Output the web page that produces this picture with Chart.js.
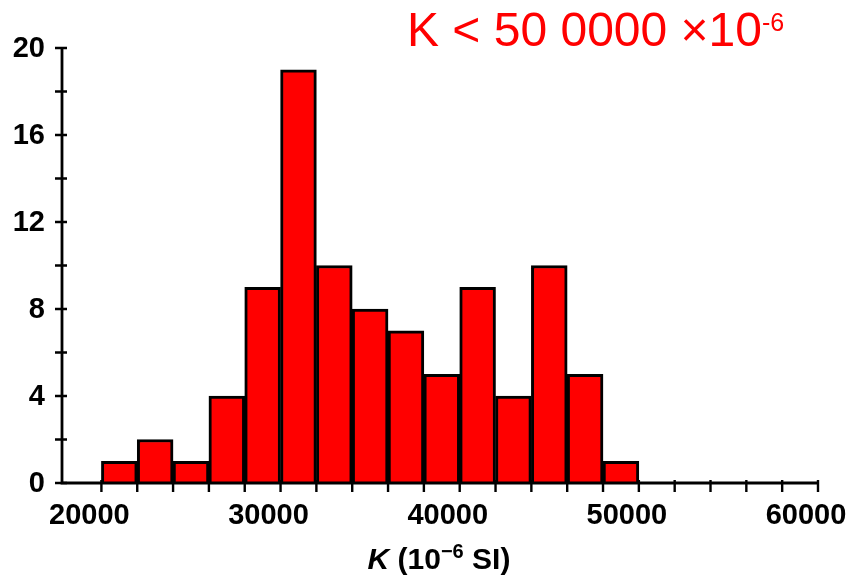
<!DOCTYPE html>
<html>
<head>
<meta charset="utf-8">
<script src="https://cdn.jsdelivr.net/npm/chart.js@4.4.1/dist/chart.umd.min.js"></script>
<style>
  html, body { margin: 0; padding: 0; background: #fff; }
  #wrap { position: relative; width: 852px; height: 584px; }
  #chart { position: absolute; left: 0; top: 0; }
  #note {
    position: absolute; left: 407px; top: 6px;
    font-family: "Liberation Sans", Arial, sans-serif; font-size: 48px; line-height: 48px;
    color: #ff0000; white-space: nowrap;
  }
  #note .sup { font-size: 25px; position: relative; top: -15px; }
  #xtitle {
    position: absolute; left: 0; width: 878px; top: 541px; text-align: center;
    font-family: "Liberation Sans", Arial, sans-serif; font-weight: bold; font-size: 30px; line-height: 36px;
    color: #000; white-space: nowrap;
  }
  #xtitle .sup { font-size: 20px; position: relative; top: -11px; }
</style>
</head>
<body>
<div id="wrap">
  <canvas id="chart" width="852" height="584"></canvas>
  <div id="note">K &lt; 50 0000 &times;10<span class="sup">-6</span></div>
  <div id="xtitle"><i>K</i> (10<span class="sup">&minus;6</span> SI)</div>
</div>
<script>
// Histogram of magnetic susceptibility K (10^-6 SI), bins 2000 wide
const binStarts = [20000, 22000, 24000, 26000, 28000, 30000, 32000, 34000, 36000, 38000, 40000, 42000, 44000, 46000, 48000];
const counts    = [1, 2, 1, 4, 9, 19, 10, 8, 7, 5, 9, 4, 10, 5, 1];
const binWidth  = 2000;

// Axis ticks (every minor tick is drawn, only some carry a label)
const xTickValues  = [20000, 22000, 24000, 26000, 28000, 30000, 32000, 34000, 36000, 38000, 40000, 42000, 44000, 46000, 48000, 50000, 52000, 54000, 56000, 58000, 60000];
const xLabelValues = [20000, 30000, 40000, 50000, 60000];
const yTickValues  = [0, 2, 4, 6, 8, 10, 12, 14, 16, 18, 20];
const yLabelValues = [0, 4, 8, 12, 16, 20];

const xMin = 17800, xMax = 60000;
const yMin = 0, yMax = 20;

const tickFont = { family: "'Liberation Sans', Arial, sans-serif", size: 29, weight: 'bold' };

// Axis lines; y ticks cross the axis, x ticks hang below it
const crossAxes = {
  id: 'crossAxes',
  afterDatasetsDraw(chart) {
    const { ctx, scales: { x, y } } = chart;
    const x0 = x.getPixelForValue(xMin);
    const xEnd = x.getPixelForValue(xMax);
    const y0 = y.getPixelForValue(yMin);
    const yTop = y.getPixelForValue(yMax);
    ctx.save();
    ctx.strokeStyle = '#000';
    ctx.lineWidth = 2.8;
    ctx.beginPath();
    ctx.moveTo(x0, yTop);
    ctx.lineTo(x0, y0);
    ctx.lineTo(xEnd, y0);
    ctx.stroke();
    ctx.lineWidth = 2.4;
    ctx.beginPath();
    yTickValues.forEach(v => {
      const py = y.getPixelForValue(v);
      ctx.moveTo(x0 - 7, py);
      ctx.lineTo(x0 + 5, py);
    });
    xTickValues.forEach(v => {
      const px = x.getPixelForValue(v);
      ctx.moveTo(px, y0 - 3);
      ctx.lineTo(px, y0 + 9);
    });
    ctx.stroke();
    ctx.restore();
  }
};

new Chart(document.getElementById('chart'), {
  type: 'bar',
  data: {
    datasets: [{
      data: binStarts.map((s, i) => ({ x: s + binWidth / 2, y: counts[i] })),
      backgroundColor: '#ff0000',
      borderColor: '#000000',
      borderWidth: 3,
      borderSkipped: 'bottom',
      barPercentage: 1,
      categoryPercentage: 1,
      grouped: false
    }]
  },
  options: {
    responsive: false,
    animation: false,
    layout: { padding: { top: 48, right: 34, bottom: 0, left: 0 } },
    plugins: { legend: { display: false }, tooltip: { enabled: false } },
    scales: {
      x: {
        type: 'linear',
        offset: false,
        min: xMin, max: xMax,
        afterBuildTicks: s => { s.ticks = xTickValues.map(v => ({ value: v })); },
        afterFit: s => { s.height = 101; s.paddingLeft = 0; s.paddingRight = 0; },
        grid: { display: false, drawTicks: false, offset: false },
        border: { display: false },
        ticks: {
          autoSkip: false, maxRotation: 0, minRotation: 0,
          labelOffset: -12, padding: 16,
          color: '#000', font: tickFont,
          callback: v => xLabelValues.includes(v) ? String(v) : ''
        }
      },
      y: {
        min: yMin, max: yMax,
        afterBuildTicks: s => { s.ticks = yTickValues.map(v => ({ value: v })); },
        afterFit: s => { s.width = 62; s.paddingTop = 0; s.paddingBottom = 0; },
        grid: { display: false, drawTicks: false },
        border: { display: false },
        ticks: {
          autoSkip: false, padding: 17, labelOffset: 1,
          color: '#000', font: tickFont,
          callback: v => yLabelValues.includes(v) ? String(v) : ''
        }
      }
    }
  },
  plugins: [crossAxes]
});
</script>
</body>
</html>
